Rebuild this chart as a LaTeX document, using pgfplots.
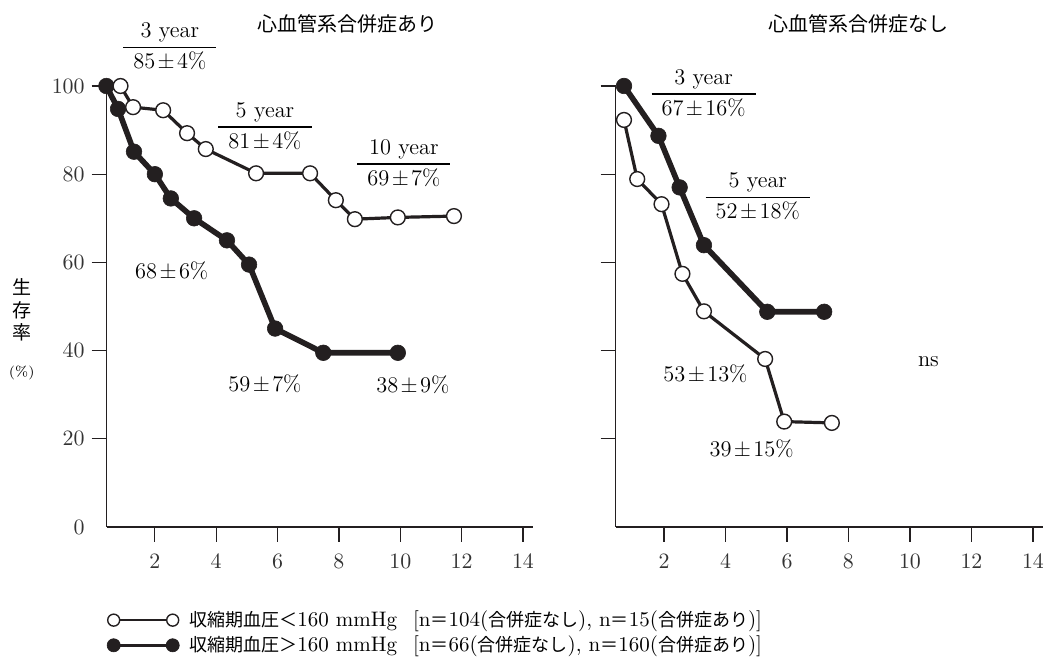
\documentclass[border=0pt]{standalone}
\usepackage{fontspec}
\usepackage{pgfplots}
\pgfplotsset{compat=1.18}
\newfontfamily\cjk{Noto Sans CJK JP}
\definecolor{ink}{HTML}{231F20}
\definecolor{txt}{HTML}{333333}
\newcommand{\fs}{\fontsize{11.2}{13.5}\selectfont}
\newcommand{\ft}{\fontsize{11}{13}\selectfont}
\newcommand{\PM}{\kern1.2pt±\kern1.2pt}
\newcommand{\jl}[1]{{\fontsize{9}{11}\selectfont\cjk #1}}
\newcommand{\frc}[2]{\renewcommand{\arraystretch}{1.1}\setlength{\arrayrulewidth}{0.6pt}\setlength{\tabcolsep}{5pt}\begin{tabular}{c}#1\\\hline #2\end{tabular}}

\pgfplotsset{
 panel/.style={
  scale only axis, width=213.2pt, height=220.5pt,
  xmin=0.43, xmax=14.33, ymin=0, ymax=100,
  axis lines*=left, axis line style={ink, line width=0.6pt},
  tick align=outside, xtick={2,4,...,14}, ytick={20,40,...,100},
  major tick length=7.5pt,
  tick style={ink, line width=0.6pt},
  extra y ticks={0}, extra y tick style={tick style={draw=none}},
  clip=false,
  ticklabel style={font=\ft, text=txt},
  xticklabel style={yshift=-2.5pt},
 },
 open/.style={ink, line width=1.6pt, mark=*, mark size=3.7pt, mark options={fill=white, draw=ink, line width=0.7pt, solid}},
 filled/.style={ink, line width=2.8pt, mark=*, mark size=3.9pt, mark options={fill=ink, draw=ink, line width=0.3pt, solid}},
 openleg/.style={legend image code/.code={\draw[##1, line width=0.8pt, mark size=3pt] plot coordinates {(0pt,0pt) (29.5pt,0pt)};}},
 filledleg/.style={legend image code/.code={\draw[##1, line width=1.6pt, mark size=3.3pt] plot coordinates {(0pt,0pt) (29.5pt,0pt)};}},
 every node/.append style={text=txt},
}

\begin{document}
\begin{tikzpicture}
\path[use as bounding box] (0,0) rectangle (522pt,328.5pt);

% ---------- left panel ----------
\begin{axis}[panel, at={(53.35pt,65pt)}, anchor=south west,
  reverse legend,
  legend style={at={(0,-0.18)}, anchor=north west, draw=none, fill=none,
    font=\fontsize{10.5}{12}\selectfont, row sep=-0.8pt, inner xsep=0pt, inner ysep=0pt},
  legend cell align=left]
\addplot[filled, filledleg]
 coordinates {(0.42,100) (0.80,94.8) (1.32,85.1) (2.0,80.0) (2.52,74.5) (3.28,70.0) (4.35,65.0) (5.07,59.5) (5.92,45.0) (7.49,39.5) (9.92,39.5)};
\addlegendentry{\hspace{3pt}\jl{収縮期血圧＞}160 mmHg\hspace{8pt}[n\jl{＝}66(\jl{合併症なし}), n\jl{＝}160(\jl{合併症あり})]}
\addplot[open, openleg]
 coordinates {(0.88,100) (1.29,95.2) (2.27,94.5) (3.05,89.3) (3.66,85.7) (5.30,80.2) (7.06,80.2) (7.90,74.1) (8.52,69.8) (9.92,70.2) (11.75,70.5)};
\addlegendentry{\hspace{3pt}\jl{収縮期血圧＜}160 mmHg\hspace{8pt}[n\jl{＝}104(\jl{合併症なし}), n\jl{＝}15(\jl{合併症あり})]}

\node[font=\fontsize{10}{12}\selectfont\cjk] at (axis cs:8.28,114.1) {心血管系合併症あり};
\node[font=\fontsize{9.5}{11.25}\selectfont\cjk, align=center] at (axis cs:-2.34,49.2) {生\\存\\率};
\node[font=\fontsize{7}{8}\selectfont] at (axis cs:-2.34,34.9) {(\%)};

\node[font=\fs] at (axis cs:2.49,108.8) {\frc{3 year}{85\PM4\%}};
\node[font=\fs] at (axis cs:5.59,90.7) {\frc{5 year}{81\PM4\%}};
\node[font=\fs] at (axis cs:10.12,82.3) {\frc{10 year}{69\PM7\%}};
\node[font=\fs] at (axis cs:2.55,58.0) {68\PM6\%};
\node[font=\fs] at (axis cs:5.59,32.4) {59\PM7\%};
\node[font=\fs] at (axis cs:10.41,32.2) {38\PM9\%};
\end{axis}

% ---------- right panel ----------
\begin{axis}[panel, at={(307.85pt,65pt)}, anchor=south west, width=213.7pt,
  yticklabels={}, extra y tick labels={}]
\addplot[filled] coordinates {(0.70,100) (1.82,88.7) (2.51,77.0) (3.30,63.9) (5.36,48.8) (7.21,48.8)};
\addplot[open] coordinates {(0.70,92.3) (1.13,78.9) (1.92,73.2) (2.60,57.4) (3.30,48.9) (5.29,38.1) (5.91,23.9) (7.46,23.6)};

\node[font=\fontsize{10}{12}\selectfont\cjk] at (axis cs:8.34,114.1) {心血管系合併症なし};
\node[font=\fs] at (axis cs:3.29,98.2) {\frc{3 year}{67\PM16\%}};
\node[font=\fs] at (axis cs:5.05,74.8) {\frc{5 year}{52\PM18\%}};
\node[font=\fs] at (axis cs:3.35,34.8) {53\PM13\%};
\node[font=\fs] at (axis cs:4.85,17.8) {39\PM15\%};
\node[font=\fs] at (axis cs:10.6,37.5) {ns};
\end{axis}
\end{tikzpicture}
\end{document}
